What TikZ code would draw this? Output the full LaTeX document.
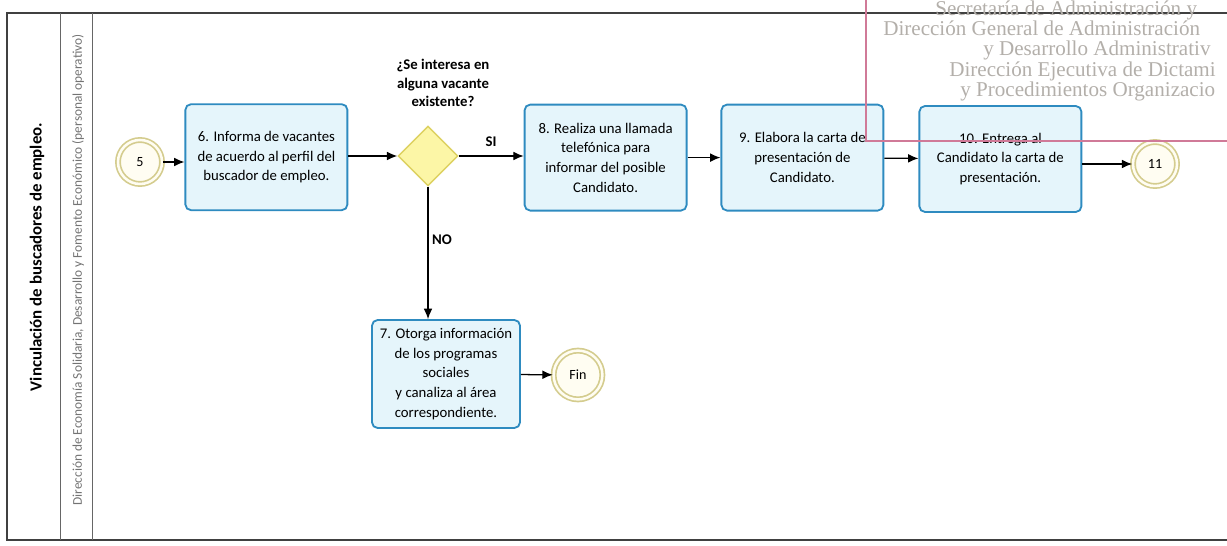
\documentclass[tikz,border=0pt]{standalone}
\usepackage{fontspec}
\setmainfont{Carlito}
\newfontfamily\stampfont{Liberation Serif}
\usetikzlibrary{shapes.geometric,arrows.meta}

\definecolor{taskline}{HTML}{2E8BC0}
\definecolor{taskfill}{HTML}{E5F5FB}
\definecolor{gateline}{HTML}{DDD160}
\definecolor{gatefill}{HTML}{FCF6A6}
\definecolor{eventline}{HTML}{D4CC8E}
\definecolor{eventfill}{HTML}{FFFDF2}
\definecolor{stampline}{HTML}{D07A98}
\definecolor{stamptext}{HTML}{B3AFAA}

\begin{document}
\begin{tikzpicture}[>={Latex[length=2.6mm,width=2.2mm]},x=1cm,y=1cm]
    \tikzset{
        task/.style={
            draw=taskline,fill=taskfill,line width=1.3pt,rounded corners=4pt,
            minimum width=4.05cm,minimum height=2.65cm,
            align=center,font=\fontsize{10.5}{14}\selectfont
        },
        gateway/.style={diamond,draw=gateline,fill=gatefill,line width=1pt,
            minimum width=1.5cm,minimum height=1.5cm,inner sep=0pt},
        event/.style={circle,draw=eventline,double=eventfill,
            double distance=1.8pt,line width=1.2pt,fill=eventfill,
            minimum size=1.1cm,inner sep=0pt,font=\fontsize{10}{12}\selectfont},
        answer/.style={font=\bfseries\fontsize{10.5}{13}\selectfont,align=center},
        stamp/.style={anchor=base west,inner sep=0pt,text=stamptext,
            font=\stampfont\fontsize{15}{17}\selectfont},
        flow/.style={->,line width=0.9pt}
    }
    \useasboundingbox (0,0) rectangle (30.675,13.65);

    % pool and lane
    \draw[line width=0.8pt,black!75] (30.675,13.325) -- (0.175,13.325)
        -- (0.175,0.15) -- (30.675,0.15);
    \draw[line width=0.6pt,black!60] (1.5,13.325) -- (1.5,0.15)
        (2.3,13.325) -- (2.3,0.15);
    \node[rotate=90,font=\bfseries\fontsize{12}{14}\selectfont] (lane)
        at (0.925,7.225) {Vinculación de buscadores de empleo.};
    \node[rotate=90,text=black!55,font=\fontsize{9.5}{11}\selectfont] (role)
        at (1.95,6.9)
        {Dirección de Economía Solidaria, Desarrollo y Fomento Económico (personal operativo)};

    \node[event] (c5) at (3.5,9.6) {5};
    \node[task] (t6) at (6.66,9.72)
        {6. Informa de vacantes\\de acuerdo al perfil del\\buscador de empleo.};
    \node[gateway] (gw) at (10.7,9.75) {};
    \node[answer] (q) at (11.075,11.575)
        {¿Se interesa en\\alguna vacante\\existente?};
    \node[task] (t8) at (15.14,9.71)
        {8. Realiza una llamada\\telefónica para\\informar del posible\\Candidato.};
    \node[task] (t9) at (20.06,9.71)
        {9. Elabora la carta de\\presentación de\\Candidato.};
    \node[task] (t10) at (25.01,9.675)
        {10. Entrega al\\Candidato la carta de\\presentación.};
    \node[event] (c11) at (28.875,9.55) {11};
    \node[task,minimum width=3.7cm,minimum height=2.7cm] (t7) at (11.15,4.3)
        {7. Otorga información\\de los programas\\sociales\\y canaliza al área\\correspondiente.};
    \node[event,minimum size=1.22cm] (fin) at (14.45,4.275) {Fin};

    \node[answer] (si) at (12.275,10.1) {SI};
    \node[answer] (no) at (11.05,7.65) {NO};

    \draw[flow] (c5) -- (c5 -| t6.west);
    \draw[flow] (t6.east |- gw) -- (gw);
    \draw[flow] (gw) -- (gw -| t8.west);
    \draw[flow] (t8) -- (t9);
    \draw[flow] (t9) -- (t10);
    \draw[flow] (t10.east |- c11) -- (c11);
    \draw[flow] (gw) -- (gw |- t7.north);
    \draw[flow] (t7) -- (fin);

    % stamp over the page
    \draw[stampline,line width=1.2pt] (21.65,13.65) -- (21.65,10.125)
        -- (30.675,10.125);
    \node[stamp] (s1) at (23.375,13.25) {Secretaría de Administración y};
    \node[stamp] (s2) at (22.075,12.75) {Dirección General de Administración};
    \node[stamp] (s3) at (24.575,12.25) {y Desarrollo Administrativ};
    \node[stamp] (s4) at (23.725,11.725) {Dirección Ejecutiva de Dictami};
    \node[stamp] (s5) at (24.0,11.225) {y Procedimientos Organizacio};
\end{tikzpicture}
\end{document}
